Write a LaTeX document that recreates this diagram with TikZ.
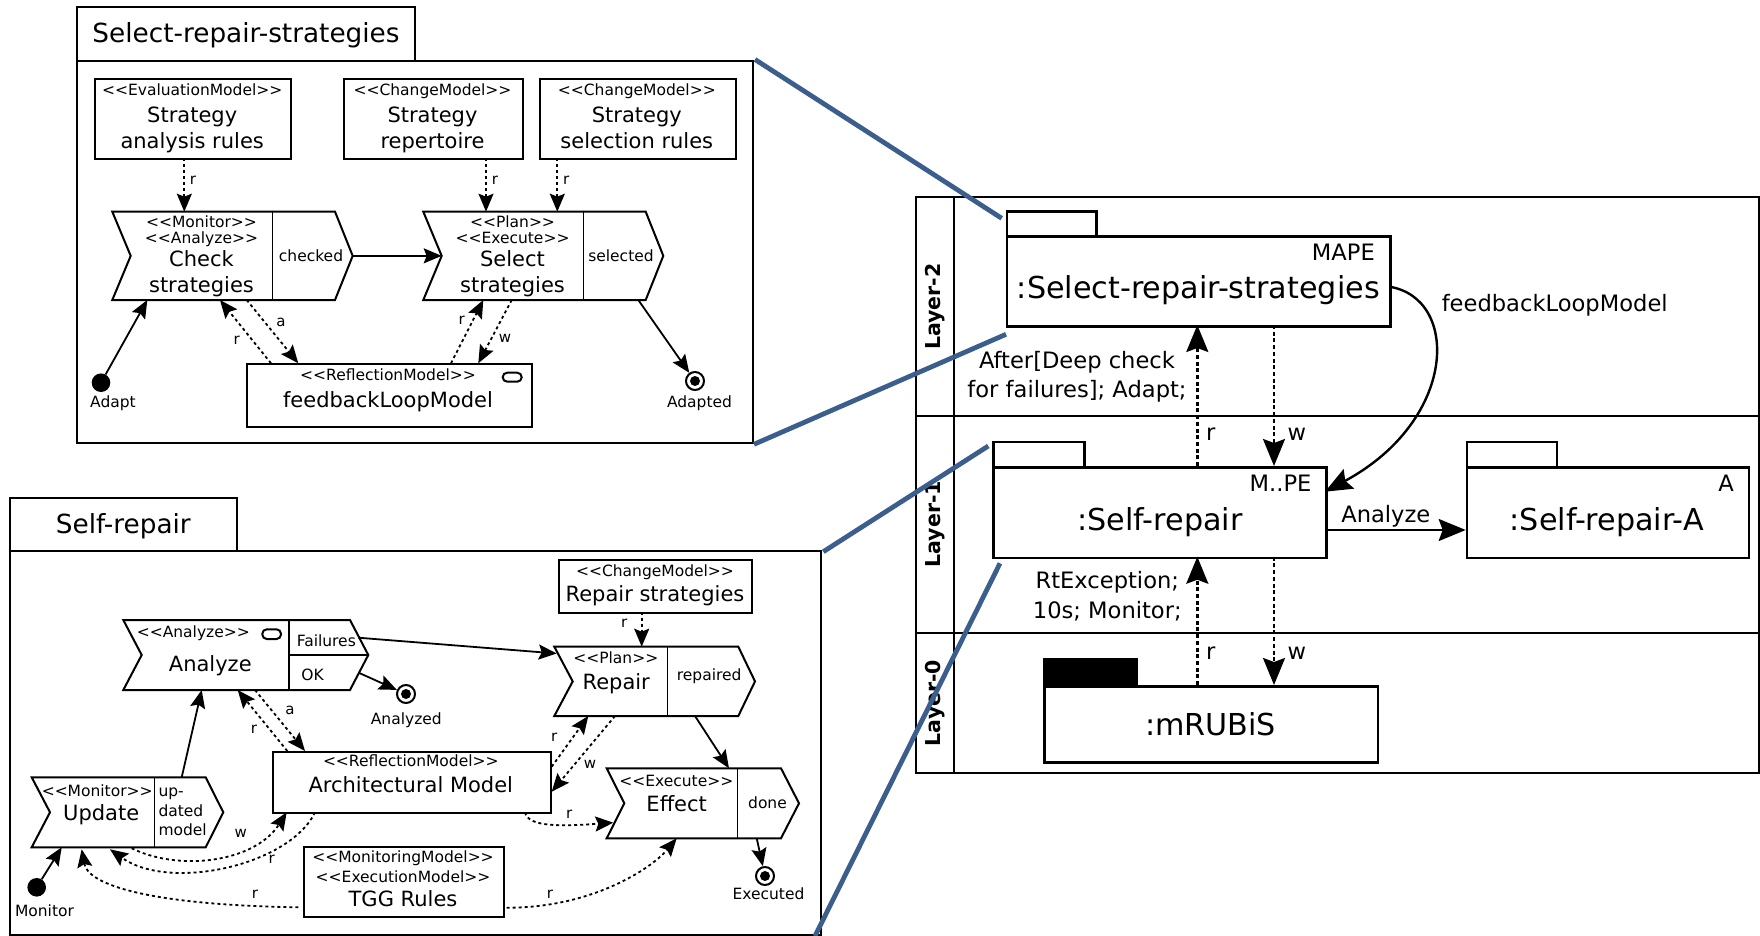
\documentclass[tikz,border=0pt]{standalone}
\usepackage{fontspec}
\newfontfamily\dv{DejaVu Sans}
\usetikzlibrary{arrows.meta}
\newcommand\dvsize[1]{\dv\fontsize{#1}{#1}\selectfont}
\definecolor{zoomblue}{RGB}{59,94,140}
\tikzset{
  frm/.style={line width=2pt},
  div/.style={line width=1.3pt},
  box/.style={draw, line width=2pt, inner sep=0pt, anchor=north west},
  pkgbox/.style={draw, line width=2.6pt, inner sep=0pt, anchor=north west},
  st/.style={inner sep=0pt, anchor=base, font=\dvsize{15.5}},
  tx/.style={inner sep=0pt, anchor=base, font=\dvsize{21}},
  ttl/.style={inner sep=0pt, anchor=base, font=\dvsize{26.3}},
  big/.style={inner sep=0pt, anchor=base, font=\dvsize{30.2}},
  note/.style={inner sep=0pt, anchor=base, font=\dvsize{22.6}},
  lyr/.style={inner sep=0pt, rotate=90, font=\dvsize{20.5}\bfseries},
  ed/.style={inner sep=0pt, font=\dvsize{15}},
  flow/.style={line width=1.8pt, -{Stealth[length=18pt,width=15pt,inset=3pt]}},
  use/.style={flow, dash pattern=on 3pt off 3pt},
  bigflow/.style={line width=2.4pt, -{Stealth[length=27pt,width=22pt,inset=4pt]}},
  biguse/.style={bigflow, dash pattern=on 4pt off 2.7pt},
  start/.style={circle, fill, inner sep=0pt, minimum size=18.6pt},
  stop/.style={circle, draw, line width=2pt, inner sep=0pt, minimum size=18pt,
    path picture={\fill (path picture bounding box.center) circle (5pt);}},
  zoom/.style={draw=zoomblue, line width=4.8pt},
  flag/.style={draw, line width=2pt, rounded corners=4.5pt},
}
\begin{document}
\begin{tikzpicture}[x=1pt,y=-1pt]
\useasboundingbox (0,0) rectangle (1760,936);

% ================= Select-repair-strategies (detail) =================
\draw[frm] (76.7,60.7) -- (76.7,6.7) -- (415,6.7) -- (415,60.7);
\draw[frm] (76.7,60.7) rectangle (752.7,443.3);
\coordinate (srsTR) at (755,59.5);
\coordinate (srsBR) at (754,444.3);
\node[ttl] (srsTitle) at (246,42.7) {Select-repair-strategies};

\node[box, minimum width=195.7pt, minimum height=80pt] (eval) at (94.3,78.3) {};
\node[st] (evalS) at (192.2,95.7) {<<EvaluationModel>>};
\node[tx] (evalA) at (192.2,122.7) {Strategy};
\node[tx] (evalB) at (192.2,149) {analysis rules};

\node[box, minimum width=178.4pt, minimum height=80pt] (rep) at (343.3,78.3) {};
\node[st] (repS) at (432.5,95.7) {<<ChangeModel>>};
\node[tx] (repA) at (432.5,122.7) {Strategy};
\node[tx] (repB) at (432.5,149) {repertoire};

\node[box, minimum width=196.3pt, minimum height=80pt] (selr) at (538.7,78.3) {};
\node[st] (selrS) at (636.8,95.7) {<<ChangeModel>>};
\node[tx] (selrA) at (636.8,122.7) {Strategy};
\node[tx] (selrB) at (636.8,149) {selection rules};

% Check strategies action
\draw[frm] (112.3,211.7) -- (335,211.7) -- (352.7,255.85) -- (335,300)
  -- (112.3,300) -- (130.7,255.85) -- cycle;
\draw[div] (272.3,211.7) -- (272.3,300);
\node[st] (chkS1) at (201.5,227.7) {<<Monitor>>};
\node[st] (chkS2) at (201.5,243.2) {<<Analyze>>};
\node[tx] (chkA) at (201.5,266.7) {Check};
\node[tx] (chkB) at (201.5,292.7) {strategies};
\node[st] (chkOut) at (311,261.7) {checked};

% Select strategies action
\draw[frm] (423.3,211.7) -- (645.7,211.7) -- (663.3,255.85) -- (645.7,300)
  -- (423.3,300) -- (441.7,255.85) -- cycle;
\draw[div] (583.3,211.7) -- (583.3,300);
\node[st] (selS1) at (512.5,227.7) {<<Plan>>};
\node[st] (selS2) at (512.5,243.2) {<<Execute>>};
\node[tx] (selA) at (512.5,266.7) {Select};
\node[tx] (selB) at (512.5,292.7) {strategies};
\node[st] (selOut) at (621,261.7) {selected};

\node[box, minimum width=285pt, minimum height=62.4pt] (fbm) at (245.7,363.3) {};
\node[st] (fbmS) at (388,380) {<<ReflectionModel>>};
\node[tx] (fbmA) at (388,407.3) {feedbackLoopModel};
\draw[flag] (502.7,372.7) rectangle (521.7,381.7);

\node[start] (adapt) at (101,382.7) {};
\node[st] (adaptL) at (113,407.3) {Adapt};
\node[stop] (adapted) at (695,381) {};
\node[st] (adaptedL) at (699.5,407.3) {Adapted};

\coordinate (evalR) at (184.3,158.3);  \coordinate (chkR) at (184.3,211.7);
\coordinate (repR) at (486,158.3);     \coordinate (selR1) at (486,211.7);
\coordinate (selrR) at (557.3,158.3);  \coordinate (selR2) at (557.3,211.7);
\coordinate (chkTip) at (352.7,255.85); \coordinate (selIn) at (441.7,255.85);
\coordinate (chkA1) at (246.7,300);    \coordinate (fbmA1) at (298.3,363.3);
\coordinate (fbmR1) at (271,363.3);    \coordinate (chkR1) at (220,300);
\coordinate (fbmR2) at (451,363.3);    \coordinate (selR3) at (483.3,300);
\coordinate (selW) at (511.7,300);     \coordinate (fbmW) at (478.3,363.3);
\coordinate (chkIn) at (147.3,300);    \coordinate (selOutP) at (638.3,300);

\draw[use] (evalR) -- (chkR);
\draw[use] (repR) -- (selR1);
\draw[use] (selrR) -- (selR2);
\draw[flow] (chkTip) -- (selIn);
\draw[use] (chkA1) -- (fbmA1);
\draw[use] (fbmR1) -- (chkR1);
\draw[use] (fbmR2) -- (selR3);
\draw[use] (selW) -- (fbmW);
\draw[flow] (adapt) -- (chkIn);
\draw[flow] (selOutP) -- (adapted);
\node[ed] (l1) at (193,180) {r};
\node[ed] (l2) at (495,180) {r};
\node[ed] (l3) at (566.3,180) {r};
\node[ed] (l4) at (281,322) {a};
\node[ed] (l5) at (236.7,340) {r};
\node[ed] (l6) at (461.7,320.7) {r};
\node[ed] (l7) at (505,338.3) {w};

% ================= Self-repair (detail) =================
\draw[frm] (10,550.7) -- (10,498.3) -- (236.7,498.3) -- (236.7,550.7);
\draw[frm] (10,550.7) rectangle (820.7,934.5);
\coordinate (srTR) at (823.3,551.7);
\coordinate (srBR) at (815,936);
\node[ttl] (srTitle) at (123.3,533.3) {Self-repair};

% Analyze action
\draw[frm] (123.3,620) -- (350,620) -- (368.3,655) -- (350,690)
  -- (123.3,690) -- (141.7,655) -- cycle;
\draw[div] (289,620) -- (289,690);
\draw[div] (289,655) -- (368.3,655);
\node[st] (anS) at (193.3,637.7) {<<Analyze>>};
\draw[flag] (262.3,629.3) rectangle (281,639);
\node[tx] (anA) at (210.3,671.7) {Analyze};
\node[st] (anF) at (326.3,646) {Failures};
\node[st] (anOK) at (312.5,680.7) {OK};
\node[stop] (analyzed) at (406,694) {};
\node[st] (analyzedL) at (406.3,724.3) {Analyzed};

% Repair strategies
\node[box, minimum width=192.7pt, minimum height=52.7pt] (rstr) at (558.3,559) {};
\node[st] (rstrS) at (655,576) {<<ChangeModel>>};
\node[tx] (rstrA) at (655,601) {Repair strategies};

% Repair action
\draw[frm] (554.3,646.7) -- (738.3,646.7) -- (755,681.4) -- (738.3,716)
  -- (554.3,716) -- (572.7,681.4) -- cycle;
\draw[div] (667.7,646.7) -- (667.7,716);
\node[st] (repS1) at (615.8,663.3) {<<Plan>>};
\node[tx] (repA1) at (616.2,689) {Repair};
\node[st] (repOut) at (709.2,680.7) {repaired};

% Architectural model
\node[box, minimum width=278.3pt, minimum height=61.3pt] (arch) at (271.7,751) {};
\node[st] (archS) at (410.8,766.7) {<<ReflectionModel>>};
\node[tx] (archA) at (410.8,792.7) {Architectural Model};

% Effect action
\draw[frm] (606.7,768.3) -- (781,768.3) -- (799,803.3) -- (781,838.3)
  -- (606.7,838.3) -- (624.3,803.3) -- cycle;
\draw[div] (737.7,768.3) -- (737.7,838.3);
\node[st] (effS) at (676.3,786) {<<Execute>>};
\node[tx] (effA) at (676.7,811.7) {Effect};
\node[st] (effOut) at (767.5,808.3) {done};
\node[stop] (executed) at (765,876) {};
\node[st] (executedL) at (768.5,899.3) {Executed};

% Update action
\draw[frm] (31.7,777.3) -- (205.7,777.3) -- (223.3,812.3) -- (205.7,847.3)
  -- (31.7,847.3) -- (50,812.3) -- cycle;
\draw[div] (154.3,777.3) -- (154.3,847.3);
\node[st] (updS) at (97.2,796) {<<Monitor>>};
\node[tx] (updA) at (101.2,820) {Update};
\node[st, anchor=base west] (updO1) at (158.3,796) {up-};
\node[st, anchor=base west] (updO2) at (158.3,816) {dated};
\node[st, anchor=base west] (updO3) at (158.3,835) {model};
\node[start] (monitor) at (36.7,887.3) {};
\node[st] (monitorL) at (44.5,916.7) {Monitor};

% TGG rules
\node[box, minimum width=200.6pt, minimum height=69.7pt] (tgg) at (302.7,846) {};
\node[st] (tggS1) at (403,862.7) {<<MonitoringModel>>};
\node[st] (tggS2) at (403,882.3) {<<ExecutionModel>>};
\node[tx] (tggA) at (403,906.7) {TGG Rules};

\coordinate (updTop) at (181.7,777.3);  \coordinate (anBot) at (201.7,690);
\coordinate (updIn) at (61.7,847.3);
\coordinate (anOKp) at (359.3,673);
\coordinate (anFp) at (358.3,637.7);    \coordinate (repIn) at (556.7,653.5);
\coordinate (rstrB) at (641.7,611.7);   \coordinate (repTop) at (641.7,646.7);
\coordinate (anA1) at (255,690);        \coordinate (archA1) at (305,751);
\coordinate (archR1) at (287.3,751);    \coordinate (anR1) at (237.7,690);
\coordinate (archR2) at (551.7,766.7);  \coordinate (repR2) at (588.3,716);
\coordinate (repW) at (615,716);        \coordinate (archW) at (551.7,791.7);
\coordinate (repOutP) at (695,716);     \coordinate (effTop) at (729,768.3);
\coordinate (effBot) at (756.7,838.3);
\coordinate (archE) at (525,812.3);     \coordinate (effW) at (613.3,822.7);
\coordinate (tggE) at (506.7,907.7);    \coordinate (effB2) at (676.7,838.3);
\coordinate (tggU) at (298.3,907.3);    \coordinate (updB1) at (81.7,849.3);
\coordinate (updW) at (131.7,848.3);    \coordinate (archW2) at (286.7,812.3);
\coordinate (archR3) at (315,812.3);    \coordinate (updB2) at (110,849.3);

\draw[flow] (updTop) -- (anBot);
\draw[flow] (monitor) -- (updIn);
\draw[flow] (anOKp) -- (analyzed);
\draw[flow] (anFp) -- (repIn);
\draw[use] (rstrB) -- (repTop);
\draw[use] (anA1) -- (archA1);
\draw[use] (archR1) -- (anR1);
\draw[use] (archR2) -- (repR2);
\draw[use] (repW) -- (archW);
\draw[flow] (repOutP) -- (effTop);
\draw[flow] (effBot) -- (executed);
\draw[use] (archE) .. controls (528,828) and (565,826) .. (effW);
\draw[use] (tggE) .. controls (590,908) and (650,870) .. (effB2);
\draw[use] (tggU) .. controls (150,905) and (88,885) .. (updB1);
\draw[use] (updW) .. controls (180,872) and (255,862) .. (archW2);
\draw[use] (archR3) .. controls (290,865) and (170,892) .. (updB2);
\node[ed] (m1) at (624.3,623.3) {r};
\node[ed] (m2) at (290,710.7) {a};
\node[ed] (m3) at (254,729.3) {r};
\node[ed] (m4) at (554.3,737.3) {r};
\node[ed] (m5) at (590,764) {w};
\node[ed] (m6) at (569.3,814) {r};
\node[ed] (m7) at (550,894) {r};
\node[ed] (m8) at (255,894) {r};
\node[ed] (m9) at (240.7,833.3) {w};
\node[ed] (m10) at (271.7,859.3) {r};

% ================= Layers =================
\draw[frm] (916,197.3) rectangle (1759.3,773.3);
\draw[frm] (954.3,197.3) -- (954.3,773.3);
\draw[frm] (916,415.7) -- (1759.3,415.7);
\draw[frm] (916,632.7) -- (1759.3,632.7);
\node[lyr] (lay2) at (935,306.5) {Layer-2};
\node[lyr] (lay1) at (935,524.2) {Layer-1};
\node[lyr] (lay0) at (935,703) {Layer-0};

\node[pkgbox, minimum width=89.3pt, minimum height=25pt] (spkgTab) at (1005.7,210) {};
\node[pkgbox, minimum width=383.6pt, minimum height=90pt] (spkg) at (1005.7,235) {};
\node[note, anchor=base east] (spkgK) at (1375,260.7) {MAPE};
\node[big] (spkgN) at (1198.3,298.3) {:Select-repair-strategies};

\node[pkgbox, minimum width=91pt, minimum height=25.3pt] (srpkgTab) at (992.3,440.7) {};
\node[pkgbox, minimum width=332.7pt, minimum height=90.7pt] (srpkg) at (992.3,466) {};
\node[note, anchor=base east] (srpkgK) at (1311.7,491.7) {M..PE};
\node[big] (srpkgN) at (1160,530.7) {:Self-repair};

\node[pkgbox, minimum width=90pt, minimum height=25.3pt] (srapkgTab) at (1465.7,440.7) {};
\node[pkgbox, minimum width=282pt, minimum height=90.7pt] (srapkg) at (1465.7,466) {};
\node[note, anchor=base east] (srapkgK) at (1734,491.7) {A};
\node[big] (srapkgN) at (1606.7,530.7) {:Self-repair-A};

\node[pkgbox, fill, minimum width=91.7pt, minimum height=27.3pt] (mrpkgTab) at (1043.3,657.7) {};
\node[pkgbox, minimum width=333.4pt, minimum height=76pt] (mrpkg) at (1043.3,685) {};
\node[big] (mrpkgN) at (1210.5,735) {:mRUBiS};

\coordinate (srTopR) at (1197.3,466);  \coordinate (spBotR) at (1197.3,325);
\coordinate (spBotW) at (1274,325);    \coordinate (srTopW) at (1274,466);
\coordinate (mrTopR) at (1197.3,685);  \coordinate (srBotR) at (1197.3,556.7);
\coordinate (srBotW) at (1274,556.7);  \coordinate (mrTopW) at (1274,685);
\coordinate (spRight) at (1389.3,286.7); \coordinate (srRightT) at (1325,491.7);
\coordinate (srRightM) at (1325,530);  \coordinate (sraLeft) at (1465.7,530);

\draw[biguse] (srTopR) -- (spBotR);
\draw[biguse] (spBotW) -- (srTopW);
\draw[biguse] (mrTopR) -- (srBotR);
\draw[biguse] (srBotW) -- (mrTopW);
\draw[bigflow] (spRight) .. controls (1460,298) and (1458,420) .. (srRightT);
\draw[bigflow] (srRightM) -- (sraLeft);

\node[note, anchor=base west] (n1) at (1206,440) {r};
\node[note, anchor=base west] (n2) at (1287.5,440) {w};
\node[note, anchor=base west] (n3) at (1206,659.3) {r};
\node[note, anchor=base west] (n4) at (1287.5,659.3) {w};
\node[note] (n5) at (1077,368.3) {After[Deep check};
\node[note] (n6) at (1077,397.3) {for failures]; Adapt;};
\node[note] (n7) at (1107.3,588.3) {RtException;};
\node[note] (n8) at (1107.3,618.3) {10s; Monitor;};
\node[note] (n9) at (1554.7,311.7) {feedbackLoopModel};
\node[note] (n10) at (1385.8,522.3) {Analyze};

% ================= zoom lines =================
\coordinate (spTL) at (1001.7,218.3);
\coordinate (spBL) at (1006,334.3);
\coordinate (srTL) at (988.3,446);
\coordinate (srBL) at (1000,563.3);
\draw[zoom] (srsTR) -- (spTL);
\draw[zoom] (srsBR) -- (spBL);
\draw[zoom] (srTR) -- (srTL);
\draw[zoom] (srBR) -- (srBL);
\end{tikzpicture}
\end{document}
